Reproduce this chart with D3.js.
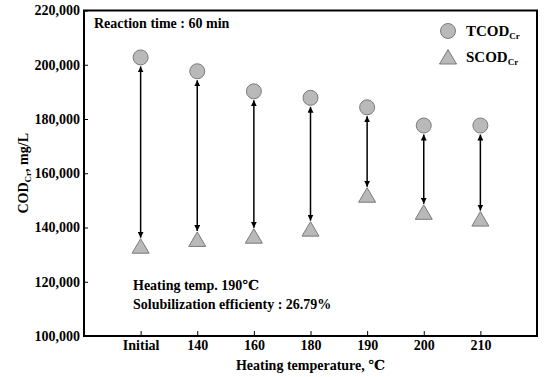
<!DOCTYPE html>
<html>
<head>
<meta charset="utf-8">
<script src="https://cdn.jsdelivr.net/npm/d3@7"></script>
<style>
    body { margin: 0; background: #fff; }
    svg text { font-family: "Liberation Serif", "Times New Roman", "DejaVu Serif", serif !important; font-weight: bold; fill: #000; }
</style>
</head>
<body>
<script>
// heating temperature categories
const temps = ["Initial", "140", "160", "180", "190", "200", "210"];
// total COD (circles) and soluble COD (triangles), mg/L
const tcod = [202700, 197600, 190200, 187800, 184300, 177600, 177600];
const scod = [133100, 135600, 136800, 139400, 151900, 145600, 143100];
const yTicks = [100000, 120000, 140000, 160000, 180000, 200000, 220000];

const width = 545, height = 377;
const margin = {left: 84, right: 8, top: 10.5, bottom: 41};
const fontSize = "14px";

const svg = d3.select("body").append("svg")
    .attr("width", width)
    .attr("height", height);

//Scales
const x = d3.scalePoint()
    .domain(temps)
    .range([margin.left, width - margin.right])
    .padding(1);

const y = d3.scaleLinear()
    .domain([100000, 220000])
    .range([height - margin.bottom, margin.top]);

//arrow heads
const defs = svg.append("defs");
["start", "end"].forEach(function (k) {
    defs.append("marker")
        .attr("id", "arrow-" + k)
        .attr("viewBox", "0 0 10 10")
        .attr("refX", 10).attr("refY", 5)
        .attr("markerWidth", 4).attr("markerHeight", 4)
        .attr("markerUnits", "strokeWidth")
        .attr("orient", k == "start" ? "auto-start-reverse" : "auto")
        .append("path")
        .attr("d", "M0,0 L10,5 L0,10 Z")
        .attr("fill", "#000");
});

//Axes
const fmt = d3.format(",");
svg.append("g")
    .attr("transform", "translate(" + margin.left + ",0)")
    .call(d3.axisLeft(y).tickValues(yTicks).tickFormat(fmt).tickSizeInner(-4).tickSizeOuter(0).tickPadding(4))
    .call(function (g) {
        g.select(".domain").remove();
        g.selectAll("text").style("font-size", fontSize);
    });

svg.append("g")
    .attr("transform", "translate(0," + y(100000) + ")")
    .call(d3.axisBottom(x).tickSizeInner(-5).tickSizeOuter(0).tickPadding(4))
    .call(function (g) {
        g.select(".domain").remove();
        g.selectAll("text").style("font-size", fontSize);
    });

//frame
svg.append("rect")
    .attr("x", margin.left)
    .attr("y", margin.top)
    .attr("width", width - margin.right - margin.left)
    .attr("height", y(100000) - margin.top)
    .attr("fill", "none")
    .attr("stroke", "#000")
    .attr("stroke-width", 2);

//double arrows between TCOD and SCOD
svg.append("g").selectAll("line")
    .data(temps)
    .enter()
    .append("line")
    .attr("x1", function (d) { return x(d); })
    .attr("x2", function (d) { return x(d); })
    .attr("y1", function (d, i) { return y(tcod[i]) + 9; })
    .attr("y2", function (d, i) { return y(scod[i]) - 8.5; })
    .attr("stroke", "#000")
    .attr("stroke-width", 1.5)
    .attr("marker-start", "url(#arrow-start)")
    .attr("marker-end", "url(#arrow-end)");

const triPath = "M0,-7.5 L8.5,7 L-8.5,7 Z";

//TCOD circles
svg.append("g").selectAll("circle")
    .data(temps)
    .enter()
    .append("circle")
    .attr("cx", function (d) { return x(d); })
    .attr("cy", function (d, i) { return y(tcod[i]); })
    .attr("r", 7.5)
    .attr("fill", "#b9b9b9")
    .attr("stroke", "#7a7a7a")
    .attr("stroke-width", 1);

//SCOD triangles
svg.append("g").selectAll("path")
    .data(temps)
    .enter()
    .append("path")
    .attr("transform", function (d, i) { return "translate(" + x(d) + "," + y(scod[i]) + ")"; })
    .attr("d", triPath)
    .attr("fill", "#b9b9b9")
    .attr("stroke", "#7a7a7a")
    .attr("stroke-width", 1);

//legend
const legend = svg.append("g");
legend.append("circle")
    .attr("cx", 448).attr("cy", 31).attr("r", 7.5)
    .attr("fill", "#b9b9b9").attr("stroke", "#7a7a7a");
legend.append("path")
    .attr("transform", "translate(448,57)")
    .attr("d", triPath)
    .attr("fill", "#b9b9b9").attr("stroke", "#7a7a7a");

function codLabel(sel, main) {
    sel.append("tspan").text(main);
    sel.append("tspan").attr("dy", 3).style("font-size", "9px").text("Cr");
}
legend.append("text")
    .attr("x", 466).attr("y", 36)
    .style("font-size", "15px")
    .call(codLabel, "TCOD");
legend.append("text")
    .attr("x", 466).attr("y", 62)
    .style("font-size", "15px")
    .call(codLabel, "SCOD");

//annotations
svg.append("text")
    .attr("x", 94).attr("y", 28)
    .style("font-size", fontSize)
    .text("Reaction time : 60 min");

svg.append("text")
    .attr("x", 133).attr("y", 290)
    .style("font-size", fontSize)
    .text("Heating temp. 190\u2103");

svg.append("text")
    .attr("x", 133).attr("y", 309)
    .style("font-size", fontSize)
    .text("Solubilization efficienty : 26.79%");

//axis titles
svg.append("text")
    .attr("x", (margin.left + width - margin.right) / 2)
    .attr("y", 370)
    .attr("text-anchor", "middle")
    .style("font-size", fontSize)
    .text("Heating temperature, \u2103");

const yTitle = svg.append("text")
    .attr("transform", "translate(28," + ((margin.top + y(100000)) / 2) + ") rotate(-90)")
    .attr("text-anchor", "middle")
    .style("font-size", fontSize);
yTitle.append("tspan").text("COD");
yTitle.append("tspan").attr("dy", 3).style("font-size", "9px").text("Cr");
yTitle.append("tspan").attr("dy", -3).text(", mg/L");
</script>
</body>
</html>
